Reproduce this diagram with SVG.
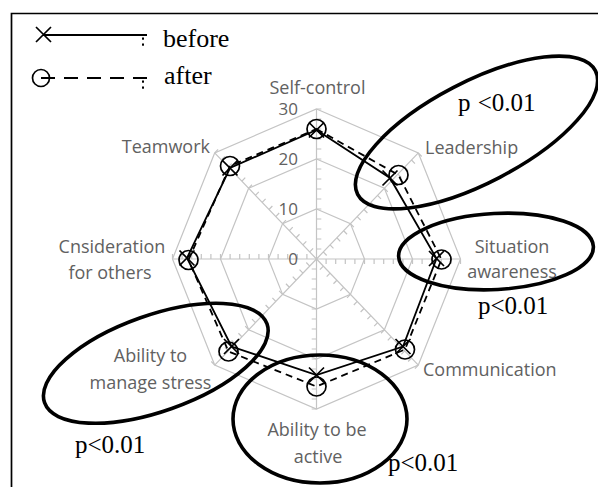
<svg xmlns="http://www.w3.org/2000/svg" width="598" height="487" viewBox="0 0 598 487">
  <style>
    .frame { stroke: #000; stroke-width: 1.7; fill: none; }
    .grid { stroke: #c4c4c4; stroke-width: 1.2; fill: none; vector-effect: non-scaling-stroke; }
    .cat { font-family: "Open Sans", "Liberation Sans", sans-serif; font-size: 18px; fill: #616161; }
    .num { font-family: "Open Sans", "Liberation Sans", sans-serif; font-size: 17px; fill: #616161; text-anchor: end; }
    .serif { font-family: "Liberation Serif", "Times New Roman", serif; fill: #000; }
    .before { stroke: #000; stroke-width: 1.8; fill: none; }
    .after { stroke: #000; stroke-width: 1.8; fill: none; stroke-dasharray: 7 5; }
    .mark { stroke: #000; stroke-width: 1.7; fill: none; }
    .oval { stroke: #000; stroke-width: 3.6; fill: none; }
  </style>
  <defs>
    <!-- one radial axis with tick marks every 2 units -->
    <g id="axis">
      <path class="grid" d="M0,0V-150 M0,-10h5 M0,-20h5 M0,-30h5 M0,-40h5 M0,-50h5 M0,-60h5 M0,-70h5 M0,-80h5 M0,-90h5 M0,-100h5 M0,-110h5 M0,-120h5 M0,-130h5 M0,-140h5 M0,-150h5"/>
    </g>
    <path id="xm" class="mark" d="M-7.5,-7.5L7.5,7.5M-7.5,7.5L7.5,-7.5"/>
    <circle id="om" class="mark" r="9.5"/>
  </defs>

  <rect width="598" height="487" fill="#fff"/>

  <!-- outer frame (left and top edges) -->
  <path class="frame" d="M11.5,487V13.5H598"/>

  <!-- legend -->
  <g id="legend">
    <line class="before" x1="43" y1="35" x2="147" y2="35"/>
    <use href="#xm" x="43.5" y="34.5"/>
    <rect x="142" y="37.5" width="2" height="2.2" fill="#000"/>
    <rect x="142" y="43.5" width="2" height="2.2" fill="#000"/>
    <text class="serif" x="163" y="46.5" font-size="26">before</text>

    <line class="before" x1="41" y1="78" x2="147" y2="78" stroke-dasharray="14 9"/>
    <circle class="mark" cx="41" cy="78" r="8.5"/>
    <rect x="142" y="80.5" width="2" height="2.2" fill="#000"/>
    <rect x="142" y="86.5" width="2" height="2.2" fill="#000"/>
    <text class="serif" x="164" y="84" font-size="26">after</text>
  </g>

  <!-- radar grid: rings at 10, 20, 30 and eight ticked axes -->
  <g id="grid" transform="translate(316.5 259) scale(0.96 1)">
    <polygon class="grid" points="0,-50 35.36,-35.36 50,0 35.36,35.36 0,50 -35.36,35.36 -50,0 -35.36,-35.36"/>
    <polygon class="grid" points="0,-100 70.71,-70.71 100,0 70.71,70.71 0,100 -70.71,70.71 -100,0 -70.71,-70.71"/>
    <polygon class="grid" points="0,-150 106.07,-106.07 150,0 106.07,106.07 0,150 -106.07,106.07 -150,0 -106.07,-106.07"/>
    <use href="#axis"/>
    <use href="#axis" transform="rotate(45)"/>
    <use href="#axis" transform="rotate(90)"/>
    <use href="#axis" transform="rotate(135)"/>
    <use href="#axis" transform="rotate(180)"/>
    <use href="#axis" transform="rotate(225)"/>
    <use href="#axis" transform="rotate(270)"/>
    <use href="#axis" transform="rotate(315)"/>
  </g>

  <!-- scale values -->
  <g id="scale">
    <text class="num" x="298" y="115">30</text>
    <text class="num" x="298" y="165">20</text>
    <text class="num" x="298" y="215">10</text>
    <text class="num" x="298" y="265">0</text>
  </g>

  <!-- category labels -->
  <g id="labels">
    <text class="cat" x="317.5" y="94" text-anchor="middle">Self-control</text>
    <text class="cat" x="425" y="153.5">Leadership</text>
    <text class="cat" x="512" y="252.5" text-anchor="middle">Situation</text>
    <text class="cat" x="512" y="278" text-anchor="middle">awareness</text>
    <text class="cat" x="423" y="376">Communication</text>
    <text class="cat" x="317" y="436" text-anchor="middle">Ability to be</text>
    <text class="cat" x="318" y="463" text-anchor="middle">active</text>
    <text class="cat" x="150.5" y="361.5" text-anchor="middle">Ability to</text>
    <text class="cat" x="150.5" y="389" text-anchor="middle">manage stress</text>
    <text class="cat" x="112" y="253" text-anchor="middle">Cnsideration</text>
    <text class="cat" x="110" y="279" text-anchor="middle">for others</text>
    <text class="cat" x="210" y="153" text-anchor="end">Teamwork</text>
  </g>

  <!-- data series -->
  <g id="series-before">
    <path class="before" d="M316.5,130L390,178L436.5,258.5L403,346.5L316.5,375L231.5,346.5L187,258L230,168Z"/>
    <use href="#xm" x="316.5" y="130"/>
    <use href="#xm" x="390" y="178"/>
    <use href="#xm" x="436.5" y="258.5"/>
    <use href="#xm" x="403" y="346.5"/>
    <use href="#xm" x="316.5" y="375"/>
    <use href="#xm" x="231.5" y="346.5"/>
    <use href="#xm" x="187" y="258"/>
    <use href="#xm" x="230" y="168"/>
  </g>
  <g id="series-after">
    <path class="after" d="M316.5,129L398.5,175L441.5,259.5L405,349.5L316.5,386.5L228.5,351.5L188.5,260L230,166Z"/>
    <use href="#om" x="316.5" y="129"/>
    <use href="#om" x="398.5" y="175"/>
    <use href="#om" x="441.5" y="259.5"/>
    <use href="#om" x="405" y="349.5"/>
    <use href="#om" x="316.5" y="386.5"/>
    <use href="#om" x="228.5" y="351.5"/>
    <use href="#om" x="188.5" y="260"/>
    <use href="#om" x="230" y="166"/>
  </g>

  <!-- significance marks -->
  <g id="sig-leadership">
    <ellipse class="oval" cx="476.5" cy="132.5" rx="134" ry="50.5" transform="rotate(-27.5 476.5 132.5)"/>
    <text class="serif" x="458" y="110.5" font-size="25" word-spacing="1">p &lt;0.01</text>
  </g>
  <g id="sig-situation">
    <ellipse class="oval" cx="496" cy="251.5" rx="97.5" ry="38" transform="rotate(-3 496 251.5)"/>
    <text class="serif" x="478" y="314" font-size="25">p&lt;0.01</text>
  </g>
  <g id="sig-stress">
    <ellipse class="oval" cx="155.8" cy="363.3" rx="118" ry="48" transform="rotate(-19.5 155.8 363.3)"/>
    <text class="serif" x="75" y="453" font-size="25">p&lt;0.01</text>
  </g>
  <g id="sig-active">
    <ellipse class="oval" cx="320" cy="419" rx="87" ry="64"/>
    <text class="serif" x="388" y="471" font-size="25">p&lt;0.01</text>
  </g>
</svg>
